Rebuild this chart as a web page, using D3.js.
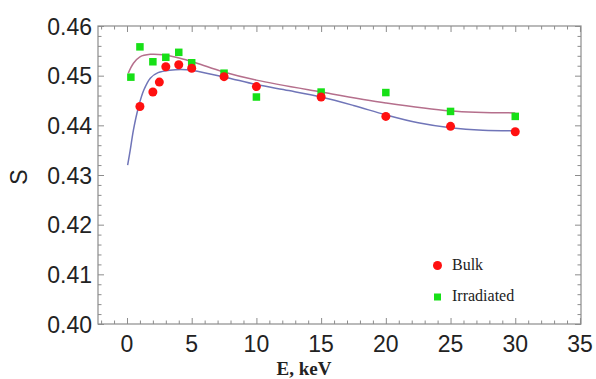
<!DOCTYPE html>
<html>
<head>
<meta charset="utf-8">
<script src="https://cdn.jsdelivr.net/npm/d3@7"></script>
<style>
  body { margin: 0; background: #fff; }
</style>
</head>
<body>
<div id="chart"></div>
<script>
// measured points
var bulkE = [1, 2, 2.5, 3, 4, 5, 7.5, 10, 15, 20, 25, 30];
var bulkS = [0.4438, 0.4467, 0.4487, 0.4518, 0.4522, 0.4515, 0.4498, 0.4478, 0.4457, 0.4418, 0.4398, 0.4387];
var irrE = [0.3, 1, 2, 3, 4, 5, 7.5, 10, 15, 20, 25, 30];
var irrS = [0.4497, 0.4558, 0.4528, 0.4537, 0.4547, 0.4526, 0.4505, 0.4457, 0.4467, 0.4466, 0.4428, 0.4418];

// fitted curves
var bulkFitE = [0.05, 0.25, 0.5, 0.9, 1.3, 1.8, 2.4, 3.3, 4.6, 7.4, 10, 12.5, 15, 17.5, 20, 22.5, 25, 27.5, 30];
var bulkFitS = [0.4320, 0.4350, 0.4391, 0.4438, 0.4471, 0.4495, 0.4506, 0.4511, 0.4512, 0.4498, 0.4482, 0.4470, 0.4457, 0.4440, 0.4421, 0.4405, 0.4395, 0.4390, 0.4389];
var irrFitE = [0.1, 0.5, 1.0, 1.8, 2.8, 4.1, 5.4, 7.4, 10, 15, 20, 25, 30];
var irrFitS = [0.4505, 0.4525, 0.4538, 0.4543, 0.4542, 0.4535, 0.4525, 0.4508, 0.4491, 0.4467, 0.4445, 0.4429, 0.4425];

var xTicks = [0, 5, 10, 15, 20, 25, 30, 35];
var yTicks = [0.40, 0.41, 0.42, 0.43, 0.44, 0.45, 0.46];

var width = 596, height = 379;
var plotLeft = 98, plotRight = 581, plotTop = 26, plotBottom = 324;

var svg = d3.select("#chart")
    .append("svg")
    .attr("width", width)
    .attr("height", height);

var x = d3.scaleLinear().domain([-2.24, 35.08]).range([plotLeft, plotRight]);
var y = d3.scaleLinear().domain([0.40, 0.46]).range([plotBottom, plotTop]);

var frameColor = "#8c8c8c";

// minor ticks
var xMinor = d3.range(-2, 36, 1).filter(function (d) { return d % 5 != 0; });
var yMinor = d3.range(0, 31, 1).map(function (i) { return 0.40 + i * 0.002; })
    .filter(function (d, i) { return i % 5 != 0; });

function drawAxis(axis, tr) {
    var g = svg.append("g")
        .attr("transform", tr)
        .call(axis);
    g.select(".domain").remove();
    g.selectAll("line").attr("stroke", frameColor);
    return g;
}

// bottom
drawAxis(d3.axisBottom(x).tickValues(xTicks).tickSize(-6).tickFormat(""), "translate(0," + plotBottom + ")");
drawAxis(d3.axisBottom(x).tickValues(xMinor).tickSize(-3.5).tickFormat(""), "translate(0," + plotBottom + ")");
// top
drawAxis(d3.axisTop(x).tickValues(xTicks).tickSize(-6).tickFormat(""), "translate(0," + plotTop + ")");
drawAxis(d3.axisTop(x).tickValues(xMinor).tickSize(-3.5).tickFormat(""), "translate(0," + plotTop + ")");
// left
drawAxis(d3.axisLeft(y).tickValues(yTicks).tickSize(-6).tickFormat(""), "translate(" + plotLeft + ",0)");
drawAxis(d3.axisLeft(y).tickValues(yMinor).tickSize(-3.5).tickFormat(""), "translate(" + plotLeft + ",0)");
// right
drawAxis(d3.axisRight(y).tickValues(yTicks).tickSize(-6).tickFormat(""), "translate(" + plotRight + ",0)");
drawAxis(d3.axisRight(y).tickValues(yMinor).tickSize(-3.5).tickFormat(""), "translate(" + plotRight + ",0)");

svg.append("rect")
    .attr("x", plotLeft)
    .attr("y", plotTop)
    .attr("width", plotRight - plotLeft)
    .attr("height", plotBottom - plotTop)
    .attr("fill", "none")
    .attr("stroke", frameColor)
    .attr("stroke-width", 1.2);

// tick labels
svg.append("g").selectAll("text")
    .data(xTicks)
    .enter().append("text")
    .attr("x", function (d) { return x(d); })
    .attr("y", 352)
    .attr("text-anchor", "middle")
    .attr("font-family", "Liberation Sans, Arial, sans-serif")
    .attr("font-size", "23px")
    .attr("fill", "#222")
    .text(function (d) { return d; });

svg.append("g").selectAll("text")
    .data(yTicks)
    .enter().append("text")
    .attr("x", 92)
    .attr("y", function (d) { return y(d) + 8.5; })
    .attr("text-anchor", "end")
    .attr("font-family", "Liberation Sans, Arial, sans-serif")
    .attr("font-size", "23px")
    .attr("fill", "#222")
    .text(function (d) { return d.toFixed(2); });

svg.append("text")
    .attr("transform", "translate(27,177) rotate(-90)")
    .attr("text-anchor", "middle")
    .attr("font-family", "Liberation Sans, Arial, sans-serif")
    .attr("font-size", "23px")
    .attr("fill", "#222")
    .text("S");

svg.append("text")
    .attr("x", 304)
    .attr("y", 375)
    .attr("text-anchor", "middle")
    .attr("font-family", "Liberation Serif, Times New Roman, serif")
    .attr("font-weight", "bold")
    .attr("font-size", "19px")
    .attr("fill", "#222")
    .text("E, keV");

// fitted lines
var line = d3.line()
    .x(function (d) { return x(d[0]); })
    .y(function (d) { return y(d[1]); })
    .curve(d3.curveCatmullRom.alpha(0.5));

svg.append("path")
    .attr("d", line(d3.zip(irrFitE, irrFitS)))
    .attr("fill", "none")
    .attr("stroke", "#b56f8c")
    .attr("stroke-width", 1.5);

svg.append("path")
    .attr("d", line(d3.zip(bulkFitE, bulkFitS)))
    .attr("fill", "none")
    .attr("stroke", "#7075b8")
    .attr("stroke-width", 1.5);

// points
svg.append("g").selectAll("rect")
    .data(d3.zip(irrE, irrS))
    .enter().append("rect")
    .attr("x", function (d) { return x(d[0]) - 3.75; })
    .attr("y", function (d) { return y(d[1]) - 3.75; })
    .attr("width", 7.5)
    .attr("height", 7.5)
    .attr("fill", "#17e017");

svg.append("g").selectAll("circle")
    .data(d3.zip(bulkE, bulkS))
    .enter().append("circle")
    .attr("cx", function (d) { return x(d[0]); })
    .attr("cy", function (d) { return y(d[1]); })
    .attr("r", 4.5)
    .attr("fill", "#ff1010");

// legend
svg.append("circle")
    .attr("cx", 437.5)
    .attr("cy", 265.5)
    .attr("r", 4.5)
    .attr("fill", "#ff1010");
svg.append("rect")
    .attr("x", 434)
    .attr("y", 293.5)
    .attr("width", 7)
    .attr("height", 7)
    .attr("fill", "#17e017");

svg.append("text")
    .attr("x", 452)
    .attr("y", 270)
    .attr("font-family", "Liberation Serif, Times New Roman, serif")
    .attr("font-size", "16px")
    .attr("fill", "#222")
    .text("Bulk");
svg.append("text")
    .attr("x", 452)
    .attr("y", 301)
    .attr("font-family", "Liberation Serif, Times New Roman, serif")
    .attr("font-size", "16px")
    .attr("fill", "#222")
    .text("Irradiated");
</script>
</body>
</html>
